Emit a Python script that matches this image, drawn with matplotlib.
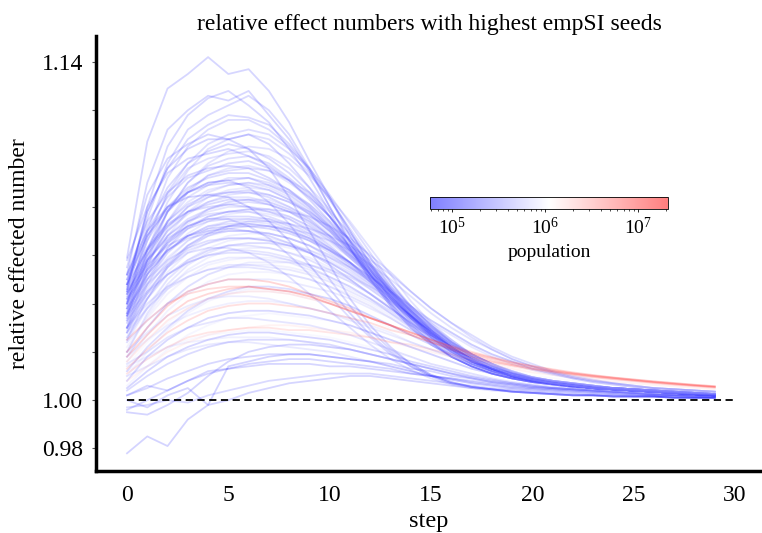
import numpy as np
import matplotlib
matplotlib.use("Agg")
import matplotlib.pyplot as plt
from matplotlib.colors import LogNorm
from matplotlib.cm import ScalarMappable

plt.rcParams['font.family'] = ['Liberation Serif', 'DejaVu Serif']
plt.rcParams['mathtext.fontset'] = 'stix'

steps = list(range(30))

# relative effected number, stored as thousandths above 1.0
blue_curves = [
    [59,107,129,135,142,135,137,128,115,99,84,68,54,42,32,24,18,14,11,9,7.5,6.5,5.5,5,4.5,4,3.5,3,2.5,2],
    [45,80,105,118,125,128,122,115,104,92,78,63,50,39,30,23,18,14,11,9,7.5,6.5,5.5,5,4.5,4,3.5,3,2.5,2],
    [50,75,98,112,118,122,126,120,110,96,80,65,51,40,31,24,18,14,11,9,7.5,6.5,5.5,5,4.5,4,3.5,3,2.5,2],
    [40,70,92,105,112,116,116,112,105,95,83,70,57,45,35,27,21,16,13,10,8.5,7,6,5,4.5,4,3.5,3,2.5,2],
    [55,85,100,106,110,108,110,106,98,88,76,63,50,39,30,23,18,14,11,9,7.5,6.5,5.5,5,4.5,4,3.5,3,2.5,2],
    [35,62,82,95,104,108,110,108,102,94,83,71,59,47,37,28,22,17,13,10,8.5,7,6,5,4.5,4,3.5,3,2.5,2],
    [48,72,88,98,103,106,104,100,94,86,76,65,54,43,34,26,20,15,12,10,8,7,6,5,4.5,4,3.5,3,2.5,2],
    [42,68,85,96,100,102,103,101,96,88,79,68,57,46,36,28,21,16,13,10,8.5,7,6,5,4.5,4,3.5,3,2.5,2],
    [38,60,78,90,97,100,101,98,92,85,76,66,55,45,35,27,21,16,13,10,8.5,7,6,5,4.5,4,3.5,3,2.5,2],
    [52,74,86,93,96,97,96,92,87,80,72,62,52,43,34,26,20,16,12,10,8,7,6,5,4.5,4,3.5,3,2.5,2],
    [30,55,74,86,93,96,97,95,90,84,76,66,56,46,37,29,22,17,14,11,9,7.5,6.5,5.5,5,4.5,4,3.5,3,2.5],
    [45,66,80,88,92,94,94,91,87,81,73,64,55,45,36,28,22,17,13,10,8.5,7,6,5,4.5,4,3.5,3,2.5,2],
    [36,58,74,84,89,92,92,90,86,80,72,63,54,45,36,28,22,17,13,10,8.5,7,6,5,4.5,4,3.5,3,2.5,2],
    [48,68,80,86,89,90,89,87,83,77,70,61,52,43,35,27,21,16,13,10,8,7,6,5,4.5,4,3.5,3,2.5,2],
    [40,60,74,82,87,89,90,88,84,78,71,63,54,45,37,29,23,18,14,11,9,7.5,6.5,5.5,5,4.5,4,3.5,3,2.5],
    [33,52,68,78,84,87,88,87,83,78,71,63,55,46,38,30,24,18,14,11,9,7.5,6.5,5.5,5,4.5,4,3.5,3,2.5],
    [44,62,74,81,85,86,86,84,80,75,68,60,52,43,35,27,21,16,13,10,8,7,6,5,4.5,4,3.5,3,2.5,2],
    [38,57,70,78,82,84,84,82,79,74,68,60,52,44,36,28,22,17,13,10,8.5,7,6,5,4.5,4,3.5,3,2.5,2],
    [28,48,63,73,79,82,83,82,79,75,69,62,54,46,38,30,24,19,15,12,9.5,8,7,6,5,4.5,4,3.5,3,2.5],
    [46,63,73,78,80,81,80,78,75,70,64,57,49,41,34,27,21,16,13,10,8,7,6,5,4.5,4,3.5,3,2.5,2],
    [35,54,66,74,78,80,80,79,76,72,66,59,52,44,36,29,23,18,14,11,9,7.5,6.5,5.5,5,4.5,4,3.5,3,2.5],
    [42,58,68,74,77,78,78,76,73,69,63,57,50,42,35,28,22,17,13,10,8.5,7,6,5,4.5,4,3.5,3,2.5,2],
    [30,48,61,69,74,77,78,77,75,71,66,60,53,46,38,31,24,19,15,12,9.5,8,7,6,5,4.5,4,3.5,3,2.5],
    [40,55,65,71,74,75,75,74,71,67,62,56,49,42,35,28,22,17,13,10,8.5,7,6,5,4.5,4,3.5,3,2.5,2],
    [34,50,61,68,72,74,74,73,70,67,62,56,50,43,36,29,23,18,14,11,9,7.5,6.5,5.5,5,4.5,4,3.5,3,2.5],
    [26,42,55,64,69,72,73,72,70,67,62,57,51,44,37,30,24,19,15,12,9.5,8,7,6,5,4.5,4,3.5,3,2.5],
    [44,56,64,68,70,71,70,68,65,61,56,50,44,38,32,26,20,16,12,10,8,7,6,5,4.5,4,3.5,3,2.5,2],
    [32,47,57,64,68,70,70,69,67,64,60,55,49,43,36,29,23,18,14,11,9,7.5,6.5,5.5,5,4.5,4,3.5,3,2.5],
    [38,50,58,63,66,67,67,66,64,61,57,52,46,40,33,27,21,16,13,10,8.5,7,6,5,4.5,4,3.5,3,2.5,2],
    [24,38,50,58,63,66,67,67,65,62,58,53,47,41,35,29,23,18,14,11,9,7.5,6.5,5.5,5,4.5,4,3.5,3,2.5],
    [30,42,52,58,62,64,64,63,61,58,54,50,44,38,32,26,21,16,13,10,8.5,7,6,5,4.5,4,3.5,3,2.5,2],
    [20,35,46,54,59,62,63,63,61,59,55,51,46,40,34,28,22,17,14,11,9,7.5,6.5,5.5,5,4.5,4,3.5,3,2.5],
    [35,45,52,57,60,61,61,60,58,55,51,47,42,36,30,25,20,16,12,10,8,7,6,5,4.5,4,3.5,3,2.5,2],
    [26,38,47,53,57,59,59,58,57,54,51,47,42,37,31,26,21,16,13,10,8.5,7,6,5,4.5,4,3.5,3,2.5,2],
    [18,30,40,47,52,55,56,56,55,53,50,46,42,37,32,27,22,17,14,11,9,7.5,6.5,5.5,5,4.5,4,3.5,3,2.5],
    [30,40,47,51,54,55,55,54,52,50,47,43,39,34,29,24,19,15,12,10,8,7,6,5,4.5,4,3.5,3,2.5,2],
]
blue_pops = [7e4, 8e4, 9e4, 1.1e5, 7.5e4, 1.3e5, 9e4, 1.5e5, 1.2e5, 8e4, 2e5, 1e5,
             1.6e5, 9e4, 2.2e5, 2.5e5, 1.1e5, 1.8e5, 3e5, 9.5e4, 2e5, 1.4e5, 2.8e5, 1.2e5,
             2.4e5, 3.2e5, 8.5e4, 2.6e5, 1.3e5, 3.5e5, 1.7e5, 3.8e5, 1.5e5, 2.9e5, 4e5, 1.9e5]

more_blue_curves = [
    [52,90,112,120,126,124,128,118,108,95,80,66,52,40,31,24,18,14,11,9,7.5,6.5,5.5,5,4.5,4,3.5,3,2.5,2],
    [46,78,96,108,114,118,117,114,106,96,84,70,56,44,34,26,20,15,12,9.5,8,7,6,5,4.5,4,3.5,3,2.5,2],
    [40,66,86,98,106,110,112,110,104,96,85,73,61,49,38,29,22,17,13,10,8.5,7,6,5,4.5,4,3.5,3,2.5,2],
    [58,80,94,100,102,104,101,97,91,83,74,63,52,42,33,25,19,15,12,9.5,8,7,6,5,4.5,4,3.5,3,2.5,2],
    [34,58,78,90,98,103,105,104,100,93,84,74,63,52,41,32,25,19,15,11,9,7.5,6.5,5.5,5,4.5,4,3.5,3,2.5],
    [47,70,84,92,95,98,99,96,91,84,76,66,56,46,37,29,22,17,13,10,8.5,7,6,5,4.5,4,3.5,3,2.5,2],
    [43,63,78,87,93,95,96,95,91,86,78,69,59,49,39,31,24,18,14,11,9,7.5,6.5,5.5,5,4.5,4,3.5,3,2.5],
    [50,68,79,86,90,91,92,89,85,79,71,62,53,44,35,27,21,16,13,10,8,7,6,5,4.5,4,3.5,3,2.5,2],
    [37,56,71,80,86,89,90,89,86,81,74,66,57,48,39,31,24,19,15,11.5,9.5,8,7,6,5,4.5,4,3.5,3,2.5],
    [44,60,72,80,84,86,87,85,82,77,70,62,54,45,37,29,23,18,14,11,9,7.5,6.5,5.5,5,4.5,4,3.5,3,2.5],
    [39,58,70,77,82,85,86,85,82,78,72,64,56,47,39,31,24,19,15,11.5,9.5,8,7,6,5,4.5,4,3.5,3,2.5],
    [48,62,72,78,81,83,83,81,78,73,67,59,51,43,35,28,22,17,13,10,8.5,7,6,5,4.5,4,3.5,3,2.5,2],
    [32,52,65,74,79,82,83,83,80,76,70,63,55,47,39,31,25,19,15,12,9.5,8,7,6,5,4.5,4,3.5,3,2.5],
    [41,57,68,75,79,81,82,81,78,74,68,61,53,45,37,30,23,18,14,11,9,7.5,6.5,5.5,5,4.5,4,3.5,3,2.5],
    [36,53,65,72,76,78,79,78,76,72,67,60,53,45,37,30,24,19,15,11.5,9.5,8,7,6,5,4.5,4,3.5,3,2.5],
    [45,58,67,72,75,76,76,75,72,68,63,57,50,42,35,28,22,17,13,10,8.5,7,6,5,4.5,4,3.5,3,2.5,2],
    [29,46,58,66,71,74,75,75,73,70,65,59,52,45,38,31,25,19,15,12,9.5,8,7,6,5,4.5,4,3.5,3,2.5],
    [38,52,62,68,72,73,73,72,70,66,61,55,49,42,35,28,22,17,13,10.5,8.5,7,6,5,4.5,4,3.5,3,2.5,2],
    [33,48,59,66,70,72,73,72,70,67,63,57,51,44,37,30,24,19,15,11.5,9.5,8,7,6,5,4.5,4,3.5,3,2.5],
    [42,54,62,67,69,70,70,69,67,64,59,54,48,41,34,28,22,17,13,10.5,8.5,7,6,5,4.5,4,3.5,3,2.5,2],
    [28,42,53,61,65,68,69,69,67,64,60,55,49,43,36,30,24,19,15,11.5,9.5,8,7,6,5,4.5,4,3.5,3,2.5],
    [36,48,56,62,65,67,67,66,64,61,57,52,47,41,34,28,22,17,14,11,9,7.5,6.5,5.5,5,4.5,4,3.5,3,2.5],
    [25,39,50,57,62,64,65,65,63,61,57,53,48,42,36,30,24,19,15,12,9.5,8,7,6,5,4.5,4,3.5,3,2.5],
    [33,44,52,57,60,62,62,61,59,56,53,49,44,38,32,27,22,17,13.5,10.5,8.5,7,6,5,4.5,4,3.5,3,2.5,2],
    [22,34,44,51,56,58,59,59,58,56,53,49,44,39,33,28,23,18,14,11,9,7.5,6.5,5.5,5,4.5,4,3.5,3,2.5],
    [28,38,46,51,54,56,56,55,54,52,49,45,41,36,31,26,21,17,13,10.5,8.5,7,6,5,4.5,4,3.5,3,2.5,2],
    [16,27,37,44,49,52,53,53,52,50,47,44,40,35,30,25,21,17,13.5,10.5,8.5,7,6,5,4.5,4,3.5,3,2.5,2],
    [24,33,40,45,48,50,50,50,49,47,45,42,38,34,29,25,20,16,13,10.5,8.5,7,6,5,4.5,4,3.5,3,2.5,2],
    [10,20,29,36,41,44,46,46,45,44,42,39,35,31,27,23,19,15,12,10,8,7,6,5,4.5,4,3.5,3,2.5,2],
    [18,25,31,35,38,40,41,41,40,38,36,34,31,28,24,21,18,15,12,10,8,7,6,5,4.5,4,3.5,3,2.5,2],
    [6,14,21,27,31,34,35,36,35,34,33,31,28,25,22,19,16,13,11,9,7.5,6.5,5.5,5,4.5,4,3.5,3,2.5,2],
    [12,17,22,25,27,28,29,29,28,27,26,24,22,20,18,15,13,11,9,7.5,6.5,5.5,5,4.5,4,3.5,3,2.5,2,2],
]
more_blue_pops = [7.5e4, 9e4, 1.2e5, 8e4, 1.6e5, 1e5, 1.4e5, 8.5e4, 2e5, 1.1e5, 1.7e5, 9e4,
                  2.6e5, 1.3e5, 2.2e5, 1e5, 3.3e5, 1.5e5, 2.7e5, 1.2e5, 3.6e5, 1.8e5, 4.2e5, 2e5,
                  4.5e5, 2.4e5, 5e5, 3e5, 5.5e5, 4e5, 6e5, 7e5]

slow_curves = [
    [30,50,63,71,76,78,79,79,78,76,72,67,60,53,45,38,32,27,22,18,15,12,10,8.5,7,6,5,4.5,4,3.5],
    [25,42,55,63,68,71,72,72,71,69,66,62,56,50,43,36,30,25,21,17,14,11.5,9.5,8,7,6,5,4.5,4,3.5],
    [35,52,62,68,71,72,72,71,69,66,62,57,51,45,39,33,28,23,19,16,13,11,9,7.5,6.5,5.5,5,4.5,4,3.5],
    [20,36,48,56,61,64,65,65,64,62,59,55,50,44,38,32,27,22,18,15,12.5,10.5,9,7.5,6.5,5.5,5,4.5,4,3.5],
    [28,44,56,64,69,72,74,74,73,71,68,64,58,52,45,38,32,26,21,17,14,11.5,9.5,8,7,6,5,4.5,4,3.5],
    [18,30,40,47,52,55,57,57,57,56,54,51,47,43,38,33,28,23,19,16,13,11,9,7.5,6.5,5.5,5,4.5,4,3.5],
]
slow_pops = [1.1e5, 1.6e5, 8e4, 2.3e5, 1.3e5, 3.1e5]

fast_curves = [
    [48,78,96,104,108,108,104,96,84,70,56,42,31,22,15,10.5,7.5,5.5,4.5,3.5,3,2.5,2,2,1.5,1.5,1.5,1,1,1],
    [40,62,78,86,90,91,88,82,73,62,50,39,29,21,15,10.5,7.5,5.5,4.5,3.5,3,2.5,2,2,1.5,1.5,1.5,1,1,1],
    [52,70,80,84,85,84,80,74,66,56,46,36,27,20,14,10,7,5.5,4.5,3.5,3,2.5,2,2,1.5,1.5,1.5,1,1,1],
    [36,54,66,72,75,75,72,67,60,52,43,34,26,19,14,10,7,5.5,4.5,3.5,3,2.5,2,2,1.5,1.5,1.5,1,1,1],
    [30,45,55,61,63,63,61,57,51,44,37,30,23,17,12.5,9,6.5,5,4,3.5,3,2.5,2,2,1.5,1.5,1.5,1,1,1],
]
fast_pops = [7e4, 9e4, 6.5e4, 1.1e5, 1.4e5]

low_curves = [
    [12,22,30,37,42,45,47,47,46,44,42,39,35,31,27,23,19,15,12,10,8,7,6,5,4.5,4,3.5,3,2.5,2],
    [8,18,25,30,34,36,37,37,36,35,33,31,28,25,22,19,16,13,11,9,7.5,6.5,5.5,5,4.5,4,3.5,3,2.5,2],
    [15,20,26,30,32,34,34,33,32,31,29,27,24,21,18,15,13,11,9,7.5,6.5,5.5,5,4.5,4,3.5,3,2.5,2,2],
    [5,12,18,22,25,27,28,28,27,26,25,23,21,19,16,14,12,10,8.5,7,6,5,4.5,4,3.5,3,2.5,2,2,1.5],
    [-5,-6,-2,3,10,16,20,22,23,23,22,21,19,17,15,13,11,9,7.5,6.5,5.5,5,4.5,4,3.5,3,2.5,2,2,1.5],
    [-22,-15,-19,-8,-2,14,16,18,19,19,18,17,16,14,12,10,9,7.5,6.5,5.5,5,4.5,4,3.5,3,2.5,2,2,1.5,1.5],
    [2,6,4,8,12,13,15,16,17,17,16,15,14,13,11,10,8.5,7,6,5,4.5,4,3.5,3,2.5,2,2,1.5,1.5,1],
    [0,-3,2,5,-2,0,3,5,7,8,9,10,10,9,8,7,6,5,4.5,4,3.5,3,2.5,2,2,1.5,1.5,1,1,1],
    [-3,-2,0,-1,2,4,6,8,9,10,11,11,11,10,9,8,7,6,5,4.5,4,3.5,3,2.5,2,2,1.5,1.5,1,1],
    [20,28,35,39,42,43,43,42,40,38,36,33,30,27,24,21,18,15,12,10,8.5,7,6,5,4.5,4,3.5,3,2.5,2],
    [4,10,15,19,22,24,25,25,25,24,23,21,19,17,15,13,11,9.5,8,7,6,5,4.5,4,3.5,3,2.5,2.5,2,2],
    [10,14,18,21,23,24,24,23,22,21,20,18,16,14,12,10,8.5,7,6,5,4.5,4,3.5,3,2.5,2,2,2,1.5,1.5],
    [2,5,9,12,15,17,18,19,19,19,18,17,16,15,13,12,10,9,7.5,6.5,5.5,5,4.5,4,3.5,3,2.5,2,2,2],
    [14,18,22,24,25,26,26,26,25,24,22,21,19,17,15,13,11,9.5,8,7,6,5,4.5,4,3.5,3,2.5,2,2,1.5],
    [-4,0,4,8,11,13,14,15,15,15,14,14,13,12,11,10,9,8,7,6,5,4.5,4,3.5,3,2.5,2,2,1.5,1.5],
]
low_pops = [1.2e5, 8e4, 2e5, 7e4, 6.5e4, 6e4, 7e4, 6.5e4, 9e4, 3e5, 1e5, 2.5e5, 8e4, 4e5, 7e4]

red_curves = [
    [22,34,44,51,55,57,58,57,55,52,48,44,39,34,30,26,22,18,15,13,11,9.5,8.5,7.5,6.5,5.8,5.2,4.6,4.1,3.6],
    [14,24,32,38,42,44,45,45,44,42,40,37,34,30,27,23,20,17,14,12,10,9,8,7,6.2,5.5,4.9,4.3,3.8,3.4],
    [8,14,20,24,27,29,30,31,31,30,29,28,26,24,22,20,18,16,14.5,13,11.5,10.5,9.5,8.5,7.7,7,6.3,5.7,5.1,4.6],
    [16,25,33,38,42,44,45,45,44,42,40,37,34,31,28,25,22,19,16.5,14.5,13,11.5,10.5,9.5,8.6,7.8,7,6.3,5.7,5.1],
    [11,17,22,26,28,29,30,30,29,29,28,27,26,24,23,21,19,17,15.5,14,12.5,11.5,10.5,9.5,8.7,8,7.2,6.5,5.9,5.3],
    [13,21,28,33,37,39,40,40,39,38,36,34,32,29,27,24,21.5,19,17,15,13.5,12,10.8,9.8,8.9,8.1,7.3,6.6,6,5.4],
    [25,33,40,44,46,47,47,46,45,43,40,37,34,31,28,25,22.5,20,17.8,15.8,14.2,12.8,11.5,10.4,9.4,8.6,7.8,7.1,6.4,5.8],
    [18,27,35,41,44,46,47,46,45,43,40,37,34,31,28,25,22,19.5,17.5,15.5,14,12.5,11.2,10.2,9.3,8.5,7.7,7,6.3,5.7],
    [20,30,39,45,48,50,50,49,47,44,41,38,34,31,27,24,21,18,16,14.5,13,12,11,10,9.2,8.3,7.5,6.8,6.1,5.5],
]
red_pops = [1.2e6, 8e5, 2.5e6, 4e6, 6e6, 9e6, 1.2e7, 1.5e7, 1.8e7]

cb_ticks = [1e5, 1e6, 1e7]
pop_min, pop_max = 5.8e4, 2.1e7

W, H = 762, 533
fig = plt.figure(figsize=(W / 100, H / 100), dpi=100)
ax = fig.add_axes([96 / W, 1 - 471 / H, 1 - 96 / W, (471 - 36) / H])

cmap = plt.get_cmap('bwr')
norm = LogNorm(vmin=pop_min, vmax=pop_max)

groups = ((blue_curves, blue_pops), (more_blue_curves, more_blue_pops),
          (slow_curves, slow_pops), (fast_curves, fast_pops),
          (low_curves, low_pops), (red_curves, red_pops))
for group, pops in groups:
    for vals, p in zip(group, pops):
        y = 1 + np.array(vals) / 1000.0
        ax.plot(steps, y, color=cmap(norm(p)), alpha=0.17, lw=1.3)

ax.plot([0, 30], [1.0, 1.0], ls='--', color='black', lw=1.3, dashes=(4, 2.5))

ax.set_xlim(-1.53, 31.33)
ax.set_ylim(1 - 71 / 2421.4, 1.14 + 26 / 2421.4)
ax.set_xticks([0, 5, 10, 15, 20, 25, 30])
yt = [0.98, 1.00, 1.02, 1.04, 1.06, 1.08, 1.10, 1.12, 1.14]
ax.set_yticks(yt)
ax.set_yticklabels(['0.98', '1.00', '', '', '', '', '', '', '1.14'])
ax.tick_params(axis='both', labelsize=17, length=3, width=0.8, color='#555555')
ax.tick_params(axis='y', pad=6)
ax.tick_params(axis='x', length=0, pad=10)
for s in ('top', 'right'):
    ax.spines[s].set_visible(False)
for s in ('left', 'bottom'):
    ax.spines[s].set_linewidth(2.5)
ax.set_xlabel('step', fontsize=17.5, labelpad=4)
ax.set_ylabel('relative effected number', fontsize=17, labelpad=9)
ax.set_title('relative effect numbers with highest empSI seeds', fontsize=17, pad=4)

cax = fig.add_axes([430 / W, 1 - 209 / H, (668 - 430) / W, 12 / H])
sm = ScalarMappable(norm=norm, cmap=cmap)
cb = fig.colorbar(sm, cax=cax, orientation='horizontal', alpha=0.5)
cb.set_ticks(cb_ticks)
cb.ax.tick_params(labelsize=14, length=2.5, width=0.6, colors='black')
cb.ax.tick_params(which='minor', length=1.5, width=0.5)
cb.outline.set_linewidth(0.6)
cb.set_label('population', fontsize=14)

fig.savefig('out.png', dpi=100)
